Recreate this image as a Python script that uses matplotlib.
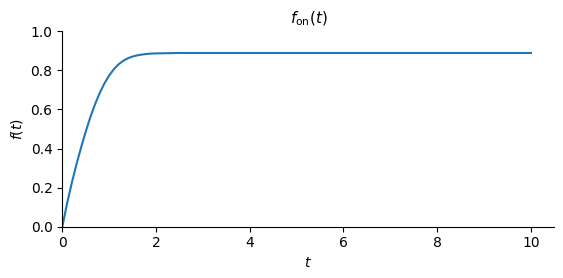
import matplotlib
matplotlib.use("Agg")
import matplotlib.pyplot as plt

t_vals = [0.0, 0.1, 0.2, 0.3, 0.4, 0.5, 0.6, 0.7, 0.8, 0.9, 1.0, 1.1, 1.2, 1.3,
          1.4, 1.5, 1.6, 1.7, 1.8, 1.9, 2.0, 2.25, 2.5, 3.0, 4.0, 5.0, 6.0, 7.0,
          8.0, 9.0, 10.0]
f_vals = [0.0, 0.118, 0.222, 0.318, 0.405, 0.487, 0.562, 0.628, 0.685, 0.734,
          0.774, 0.806, 0.831, 0.849, 0.862, 0.871, 0.877, 0.881, 0.884, 0.886,
          0.887, 0.888, 0.889, 0.889, 0.889, 0.889, 0.889, 0.889, 0.889, 0.889,
          0.889]

title = r"$f_{\mathrm{on}}(t)$"
xlabel = r"$t$"
ylabel = r"$f(t)$"

fig = plt.figure(figsize=(5.63, 2.78), dpi=100)
ax = fig.add_axes([0.1107, 0.1845, 0.9846 - 0.1107, 0.8874 - 0.1845])
ax.plot(t_vals, f_vals, color="#1f77b4", linewidth=1.5)
ax.set_xlim(0, 10.5)
ax.set_ylim(0, 1.0)
ax.set_xticks([0, 2, 4, 6, 8, 10])
ax.set_yticks([0.0, 0.2, 0.4, 0.6, 0.8, 1.0])
ax.spines["top"].set_visible(False)
ax.spines["right"].set_visible(False)
ax.set_title(title, fontsize=11)
ax.set_xlabel(xlabel, fontsize=10)
ax.set_ylabel(ylabel, fontsize=10)
fig.savefig("out.png", dpi=100)
